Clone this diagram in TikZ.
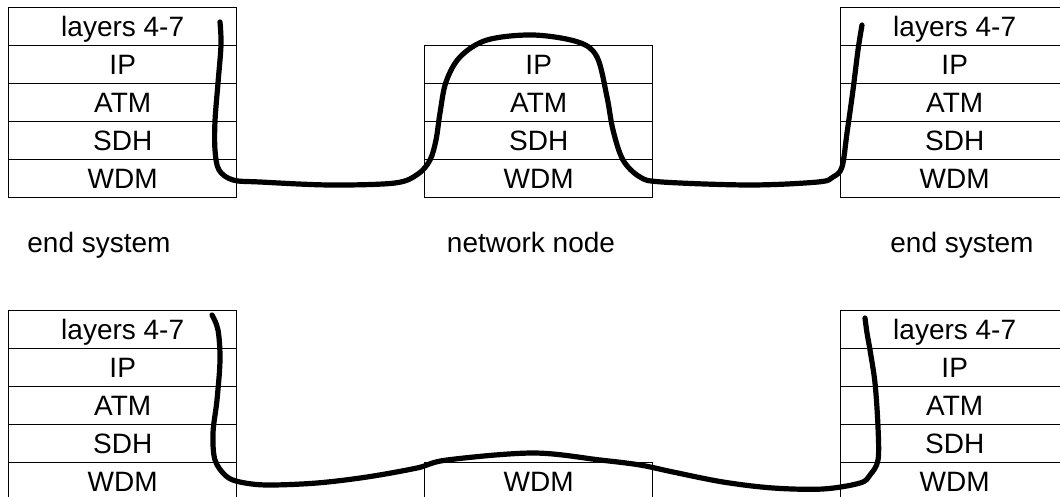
\documentclass[tikz,border=0pt]{standalone}
\usepackage{fontspec}
\setmainfont{Liberation Sans}
\begin{document}
\begin{tikzpicture}[x=0.5pt,y=-0.5pt,
  cell/.style={draw, line width=0.7pt, minimum width=114pt, minimum height=19pt,
    inner sep=0pt, text height=10pt, text depth=0pt, anchor=north west,
    font=\fontsize{14}{16}\selectfont},
  lab/.style={inner sep=0pt, text height=10pt, text depth=0pt,
    font=\fontsize{14}{16}\selectfont},
  wire/.style={line width=2.6pt, line cap=round, line join=round}]
\useasboundingbox (0,0) rectangle (1060,497);
\begin{scope}
\clip (0,0) rectangle (1060,497);
% top end system (left)
\foreach \n/\t [count=\i from 0] in {L/layers 4-7,IP/IP,ATM/ATM,SDH/SDH,WDM/WDM}
  \node[cell] (tl\n) at (8,7+38*\i) {\t};
% top network node
\foreach \n/\t [count=\i from 1] in {IP/IP,ATM/ATM,SDH/SDH,WDM/WDM}
  \node[cell] (tm\n) at (424,7+38*\i) {\t};
% top end system (right)
\foreach \n/\t [count=\i from 0] in {L/layers 4-7,IP/IP,ATM/ATM,SDH/SDH,WDM/WDM}
  \node[cell] (tr\n) at (840,7+38*\i) {\t};
% bottom end system (left)
\foreach \n/\t [count=\i from 0] in {L/layers 4-7,IP/IP,ATM/ATM,SDH/SDH,WDM/WDM}
  \node[cell] (bl\n) at (8,310+38*\i) {\t};
% bottom WDM node
\node[cell] (bmWDM) at (424,462) {WDM};
% bottom end system (right)
\foreach \n/\t [count=\i from 0] in {L/layers 4-7,IP/IP,ATM/ATM,SDH/SDH,WDM/WDM}
  \node[cell] (br\n) at (840,310+38*\i) {\t};

% labels
\node[lab] (es1) at (99,243) {end system};
\node[lab] (nn) at (531,243) {network node};
\node[lab] (es2) at (962,243) {end system};

% top path
\draw[wire] plot[smooth, tension=0.55] coordinates {
  (220,22) (221,45) (218,83) (215,121) (215,150) (219,170) (233,180)
  (260,182) (330,185) (395,183) (418,174) (430,160) (436,140) (440,113)
  (446,82) (460,57) (487,40) (533,35) (578,42) (597,57) (607,97)
  (613,130) (623,160) (640,177) (662,182) (750,185) (818,182)
  (833,177) (842,167) (847,133) (853,90) (858,50) (862,25)};

% bottom path
\draw[wire] plot[smooth, tension=0.55] coordinates {
  (212,315) (218,330) (220,360) (217,400) (213,433) (215,460)
  (226,476) (240,482) (267,485) (317,483) (367,477) (417,468)
  (447,460) (533,453) (600,460) (640,465) (673,472) (723,482)
  (773,488) (823,489) (860,483) (870,475) (878,460) (878,427)
  (875,383) (870,350) (867,333) (865,318)};
\end{scope}
\end{tikzpicture}
\end{document}
